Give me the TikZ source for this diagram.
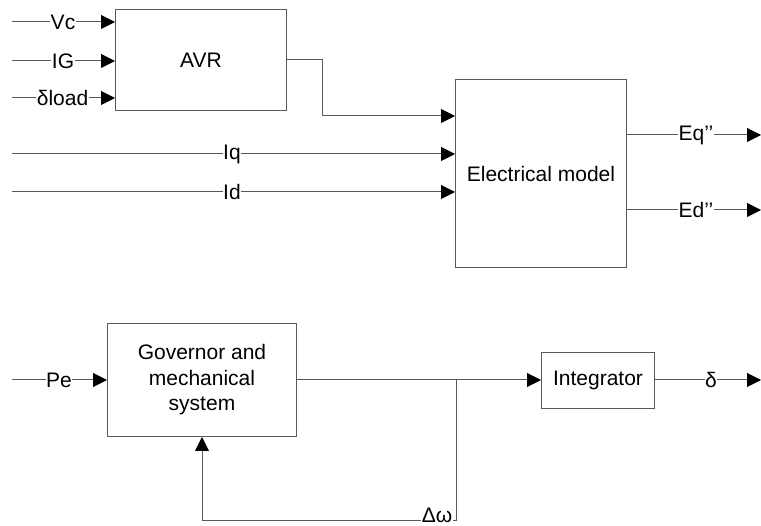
\documentclass[tikz,border=0pt]{standalone}
\usepackage{fontspec}
\setmainfont{Liberation Sans}
\usetikzlibrary{arrows.meta}
\begin{document}
\begin{tikzpicture}[x=1pt,y=-1pt,
  font=\fontsize{21}{25.5}\selectfont,
  wire/.style={draw=black!65, line width=1pt},
  sig/.style={wire, -{Triangle[length=14pt,width=14pt,fill=black,color=black]}},
  blk/.style={draw=black!65, line width=1pt, fill=white, inner sep=0pt},
  lbl/.style={fill=white, inner xsep=0.5pt, inner ysep=1pt}]
\useasboundingbox (0,0) rectangle (761,526);

% blocks, placed by their corners
\node[blk, minimum width=171pt, minimum height=101pt, anchor=north west] (avr) at (115,9) {AVR};
\node[blk, minimum width=171pt, minimum height=188pt, anchor=north west] (elec) at (455,79) {Electrical model};
\node[blk, minimum width=189pt, minimum height=113pt, anchor=north west, align=center] (gov) at (107,323)
  {Governor and\\mechanical\\system};
\node[blk, minimum width=113pt, minimum height=56pt, anchor=north west] (integ) at (541,352) {Integrator};

% free ends of signals
\coordinate (vcin) at (12,22);
\coordinate (igin) at (12,61);
\coordinate (dlin) at (12,98);
\coordinate (iqin) at (12,154);
\coordinate (idin) at (12,192);
\coordinate (pein) at (12,380);
\coordinate (eqout) at (761,135);
\coordinate (edout) at (761,210);
\coordinate (dout) at (761,380);
\coordinate (jn) at (456,380);
\coordinate (fb) at (456,521);

% AVR inputs
\draw[sig] (vcin) -- (avr.west |- vcin);
\draw[sig] (igin) -- (avr.west |- igin);
\draw[sig] (dlin) -- (avr.west |- dlin);
\node[lbl] (vcl) at (63,22) {Vc};
\node[lbl] (igl) at (63,61) {IG};
\node[lbl] (dll) at (62.5,98) {δload};

% AVR to electrical model
\draw[sig] (avr.east |- 0,60) -- (322,60) -- (322,116) -- (elec.west |- 0,116);

% currents into the electrical model
\draw[sig] (iqin) -- (elec.west |- iqin);
\draw[sig] (idin) -- (elec.west |- idin);
\node[lbl] (iql) at (232,154) {Iq};
\node[lbl] (idl) at (232,192) {Id};

% electrical model outputs
\draw[sig] (elec.east |- eqout) -- (eqout);
\draw[sig] (elec.east |- edout) -- (edout);
\node[lbl] (eql) at (696,135) {Eq’’};
\node[lbl] (edl) at (696,210) {Ed’’};

% mechanical loop
\draw[sig] (pein) -- (gov.west |- pein);
\node[lbl] (pel) at (59,380) {Pe};
\draw[sig] (gov.east |- jn) -- (integ.west |- jn);
\draw[sig] (integ.east |- dout) -- (dout);
\node[lbl] (dl) at (711,380) {δ};
\draw[sig] (jn) -- (fb) -- (gov.south |- fb) -- (gov.south);
\node[lbl, inner ysep=0pt, anchor=base] (dwl) at (437,522) {Δω};
\end{tikzpicture}
\end{document}
